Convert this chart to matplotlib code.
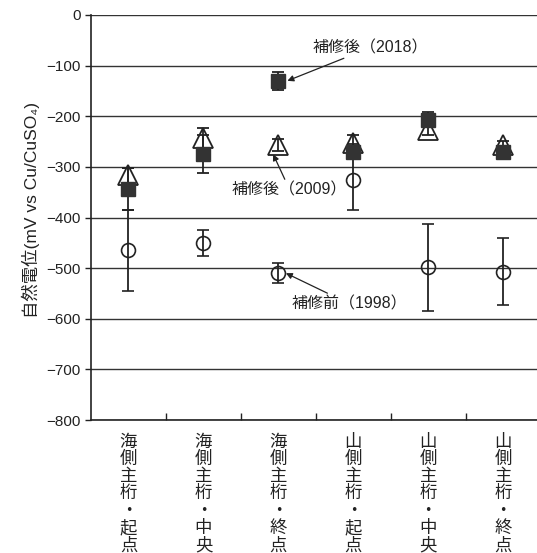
import numpy as np
import matplotlib
matplotlib.use('Agg')
import matplotlib.pyplot as plt

plt.rcParams['font.family'] = ['Liberation Sans', 'Noto Sans CJK JP', 'DejaVu Sans']

categories = ['海側主桁・起点', '海側主桁・中央', '海側主桁・終点',
              '山側主桁・起点', '山側主桁・中央', '山側主桁・終点']

# 補修前(1998) - open circles
v1998 = [-465, -450, -509, -325, -498, -507]
e1998 = [80, 26, 20, 60, 86, 66]
# 補修後(2009) - open triangles
v2009 = [-317, -243, -257, -253, -228, -257]
e2009 = [14, 20, 12, 15, 10, 8]
# 補修後(2018) - filled squares
v2018 = [-344, -275, -130, -270, -207, -270]
e2018 = [41, 38, 18, 15, 15, 8]

yticks = [0, -100, -200, -300, -400, -500, -600, -700, -800]

fig = plt.figure(figsize=(5.37, 5.53), dpi=100)
ax = fig.add_axes([91/537, 1-420/553, (537-91)/537, 405/553])

x = np.arange(len(categories))
lc = '#222222'

ax.errorbar(x, v1998, yerr=e1998, fmt='o', ms=10, mfc='none', mec=lc, mew=1.2,
            ecolor=lc, elinewidth=1.3, capsize=4, capthick=1.3, barsabove=True, zorder=3)
ax.errorbar(x, v2009, yerr=e2009, fmt='^', ms=15, mfc='white', mec=lc, mew=1.3,
            ecolor=lc, elinewidth=1.3, capsize=4, capthick=1.3, barsabove=True, zorder=4)
ax.errorbar(x, v2018, yerr=e2018, fmt='s', ms=10, mfc='#333333', mec='#333333',
            ecolor=lc, elinewidth=1.3, capsize=4, capthick=1.3, zorder=5)

ax.set_ylim(-800, 0)
ax.set_xlim(-0.5, 5.45)
ax.set_yticks(yticks)
ax.yaxis.grid(True, color='#333333', lw=1.0)
ax.set_axisbelow(True)
ax.tick_params(axis='y', direction='out', length=4, labelsize=11, width=1, colors='#222222')

ax.set_xticks(x)
ax.set_xticklabels(['\n'.join(c) for c in categories], fontsize=12.5, linespacing=0.95,
                   family=['Noto Sans CJK JP', 'DejaVu Sans'])
ax.tick_params(axis='x', which='major', length=0, pad=9, colors='#222222')
ax.set_xticks(np.arange(0.5, 5, 1), minor=True)
ax.tick_params(axis='x', which='minor', direction='in', length=5, width=1, color='#222222')

for s in ['top', 'right']:
    ax.spines[s].set_visible(False)
for s in ['left', 'bottom']:
    ax.spines[s].set_color('#222222')
    ax.spines[s].set_linewidth(1.2)

fig.text(31/537, 1-210/553, '自然電位(mV vs Cu/CuSO₄)', rotation=90, ha='center', va='center',
         fontsize=12.5, color='#222222')

arrow = dict(arrowstyle='-|>', color=lc, lw=0.9, mutation_scale=9, shrinkA=0, shrinkB=0)
ax.annotate('補修後（2018）', xy=(2.12, -130), xytext=(2.45, -65), fontsize=11.5,
            ha='left', va='center', color='#222222', arrowprops=arrow)
ax.annotate('補修後（2009）', xy=(1.93, -275), xytext=(1.38, -345), fontsize=11.5,
            ha='left', va='center', color='#222222', arrowprops=arrow)
ax.annotate('補修前（1998）', xy=(2.1, -510), xytext=(2.17, -570), fontsize=11.5,
            ha='left', va='center', color='#222222', arrowprops=arrow)

fig.savefig('out.png', dpi=100)
